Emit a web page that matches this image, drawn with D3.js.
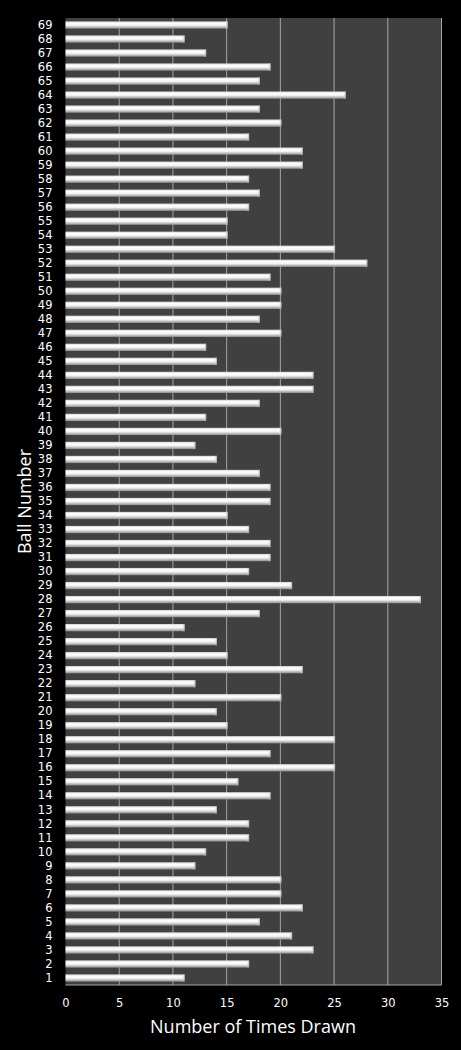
<!DOCTYPE html>
<html>
<head>
<meta charset="utf-8">
<script src="https://cdn.jsdelivr.net/npm/d3@7"></script>
<style>
  body { margin: 0; background: #000; }
  svg { display: block; }
</style>
</head>
<body>
<div id="chart"></div>
<script>
// ball numbers 1..69 and times drawn
var balls = d3.range(1, 70);
var timesDrawn = [11, 17, 23, 21, 18, 22, 20, 20, 12, 13,
                  17, 17, 14, 19, 16, 25, 19, 25, 15, 14,
                  20, 12, 22, 15, 14, 11, 18, 33, 21, 17,
                  19, 19, 17, 15, 19, 19, 18, 14, 12, 20,
                  13, 18, 23, 23, 14, 13, 20, 18, 20, 20,
                  19, 28, 25, 15, 15, 17, 18, 17, 22, 22,
                  17, 20, 18, 26, 18, 19, 13, 11, 15];
var xTicks = [0, 5, 10, 15, 20, 25, 30, 35];

var data = balls.map(function (b, i) { return { ball: b, value: timesDrawn[i] }; });

var W = 461, H = 1050;
var margin = { top: 18, right: 19.5, bottom: 65, left: 65.5 },
    width = W - margin.left - margin.right,
    height = H - margin.top - margin.bottom;

var svg = d3.select("#chart")
    .append("svg")
    .attr("width", W)
    .attr("height", H)
    .style("font-family", "'Open Sans', sans-serif");

svg.append("rect").attr("width", W).attr("height", H).attr("fill", "#000");

var defs = svg.append("defs");
var grad = defs.append("linearGradient")
    .attr("id", "barGrad")
    .attr("x1", 0).attr("y1", 0).attr("x2", 0).attr("y2", 1);
grad.append("stop").attr("offset", "0%").attr("stop-color", "#cfcfcf");
grad.append("stop").attr("offset", "25%").attr("stop-color", "#ffffff");
grad.append("stop").attr("offset", "55%").attr("stop-color", "#f2f2f2");
grad.append("stop").attr("offset", "100%").attr("stop-color", "#8c8c8c");

var endGrad = defs.append("linearGradient")
    .attr("id", "endGrad")
    .attr("x1", 0).attr("y1", 0).attr("x2", 1).attr("y2", 0);
endGrad.append("stop").attr("offset", "0%").attr("stop-color", "#ffffff").attr("stop-opacity", 0);
endGrad.append("stop").attr("offset", "100%").attr("stop-color", "#9a9a9a").attr("stop-opacity", 0.8);

var g = svg.append("g")
    .attr("transform", "translate(" + margin.left + "," + margin.top + ")");

var x = d3.scaleLinear()
    .domain([0, 35])
    .range([0, width]);

var y = d3.scaleBand()
    .domain(balls.slice().reverse())
    .range([0, height])
    .paddingInner(0.48)
    .paddingOuter(0.24);

// plot background
g.append("rect")
    .attr("width", width)
    .attr("height", height)
    .attr("fill", "#404040");

// gridlines
g.selectAll("line.grid")
    .data(xTicks.slice(1))
    .enter()
    .append("line")
    .attr("class", "grid")
    .attr("x1", function (d) { return x(d); })
    .attr("x2", function (d) { return x(d); })
    .attr("y1", 0)
    .attr("y2", height)
    .attr("stroke", "#a6a6a6")
    .attr("stroke-width", 1);

// bottom border
g.append("line")
    .attr("x1", 0).attr("x2", width)
    .attr("y1", height).attr("y2", height)
    .attr("stroke", "#a6a6a6");

// bars
g.selectAll("rect.bar")
    .data(data)
    .enter()
    .append("rect")
    .attr("class", "bar")
    .attr("x", 0)
    .attr("y", function (d) { return y(d.ball); })
    .attr("width", function (d) { return x(d.value) + 1; })
    .attr("height", y.bandwidth())
    .attr("fill", "url(#barGrad)");

g.selectAll("rect.barEnd")
    .data(data)
    .enter()
    .append("rect")
    .attr("class", "barEnd")
    .attr("x", function (d) { return x(d.value) - 2; })
    .attr("y", function (d) { return y(d.ball); })
    .attr("width", 3)
    .attr("height", y.bandwidth())
    .attr("fill", "url(#endGrad)");

// y axis labels
var yAxis = g.append("g")
    .call(d3.axisLeft(y).tickSize(0).tickPadding(13));
yAxis.select(".domain").remove();
yAxis.selectAll("text")
    .attr("fill", "#fff")
    .style("font-family", "'DejaVu Sans', sans-serif")
    .style("font-size", "11.5px");

// x axis labels
var xAxis = g.append("g")
    .attr("transform", "translate(0," + height + ")")
    .call(d3.axisBottom(x).tickValues(xTicks).tickSize(0).tickPadding(14));
xAxis.select(".domain").remove();
xAxis.selectAll("text")
    .attr("fill", "#fff")
    .style("font-family", "'DejaVu Sans', sans-serif")
    .style("font-size", "11.5px");

// axis titles
svg.append("text")
    .attr("x", 253)
    .attr("y", 1033)
    .attr("text-anchor", "middle")
    .attr("fill", "#fff")
    .style("font-size", "18px")
    .text("Number of Times Drawn");

svg.append("text")
    .attr("transform", "translate(31," + (margin.top + height / 2) + ") rotate(-90)")
    .attr("text-anchor", "middle")
    .attr("fill", "#fff")
    .style("font-size", "18px")
    .text("Ball Number");
</script>
</body>
</html>
